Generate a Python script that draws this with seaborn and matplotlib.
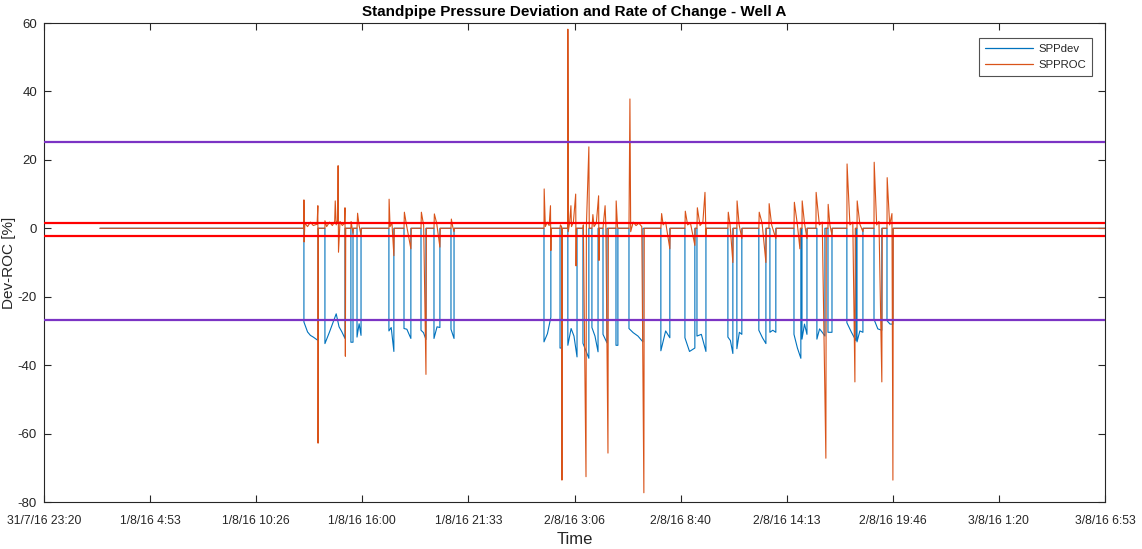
import numpy as np
import pandas as pd
import matplotlib
matplotlib.use("Agg")
import matplotlib.pyplot as plt
import matplotlib.dates as mdates
import seaborn as sns

# ---------------- data (hours after 31/7/16 23:20) ----------------
start_time = "2016-07-31 23:20:00"
end_time = "2016-08-03 06:53:20"
xtick_labels = ["31/7/16 23:20", "1/8/16 4:53", "1/8/16 10:26", "1/8/16 16:00",
                "1/8/16 21:33", "2/8/16 3:06", "2/8/16 8:40", "2/8/16 14:13",
                "2/8/16 19:46", "3/8/16 1:20", "3/8/16 6:53"]
ytick_values = [-80, -60, -40, -20, 0, 20, 40, 60]

# SPPdev
dev_g1_t = [2.93, 13.61, 13.61, 13.80, 13.95, 14.10, 14.35, 14.35,
            14.71, 14.71, 14.95, 15.30, 15.45, 15.60, 15.76, 15.76,
            16.07, 16.07, 16.18, 16.18,
            16.39, 16.39, 16.50, 16.60, 16.60,
            18.06, 18.06, 18.18, 18.32, 18.32,
            18.85, 18.85, 19.00, 19.21, 19.21,
            19.74, 19.74, 19.87, 20.00, 20.00,
            20.42, 20.42, 20.58, 20.73, 20.73,
            21.31, 21.31, 21.47, 21.47]
dev_g1_v = [0, 0, -27.4, -30.3, -31.3, -31.8, -32.8, 0,
            0, -33.7, -30.3, -25.0, -28.8, -30.3, -32.2, 0,
            0, -33.3, -33.3, 0,
            0, -31.8, -27.9, -31.3, 0,
            0, -30.0, -29.0, -36.0, 0,
            0, -29.3, -29.5, -32.2, 0,
            0, -29.8, -30.5, -32.5, 0,
            0, -32.2, -28.8, -29.0, 0,
            0, -29.5, -32.2, 0]
dev_g2_t = [26.18, 26.18, 26.36, 26.54, 26.54,
            27.02, 27.02, 27.12, 27.12,
            27.43, 27.43, 27.60, 27.75, 27.91, 27.91,
            28.22, 28.22, 28.53, 28.53,
            28.69, 28.69, 28.85, 29.01, 29.01,
            29.27, 29.27, 29.48, 29.48,
            29.95, 29.95, 30.05, 30.05,
            30.63, 30.63, 30.85, 31.10, 31.36, 31.36,
            32.30, 32.30, 32.55, 32.77, 32.77,
            33.56, 33.56, 33.80, 34.08, 34.08,
            34.19, 34.19, 34.42, 34.66, 34.66]
dev_g2_v = [0, -33.2, -30.8, -26.0, 0,
            0, -35.0, -35.0, 0,
            0, -34.2, -29.3, -31.5, -37.6, 0,
            0, -33.6, -38.0, 0,
            0, -29.0, -31.5, -36.1, 0,
            0, -31.0, -33.5, 0,
            0, -34.2, -34.2, 0,
            0, -29.3, -30.5, -31.5, -33.2, 0,
            0, -35.8, -30.0, -32.0, 0,
            0, -32.0, -36.0, -35.0, 0,
            0, -31.5, -31.0, -36.0, 0]
dev_g3_t = [35.81, 35.81, 35.94, 36.07, 36.07,
            36.28, 36.28, 36.41, 36.54, 36.54,
            37.43, 37.43, 37.62, 37.80, 37.80,
            38.01, 38.01, 38.16, 38.32, 38.32,
            39.27, 39.27, 39.45, 39.63, 39.63,
            39.69, 39.69, 39.82, 39.95, 39.95,
            40.47, 40.47, 40.61, 40.75, 40.89, 40.89,
            41.05, 41.05, 41.26, 41.26,
            42.04, 42.04, 42.28, 42.51, 42.51,
            42.57, 42.57, 42.72, 42.88, 42.88,
            43.46, 43.46, 43.66, 43.87, 43.87,
            44.14, 44.14, 44.30, 44.45, 44.45,
            55.55]
dev_g3_v = [0, -31.8, -32.8, -36.6, 0,
            0, -35.2, -30.4, -31.0, 0,
            0, -29.8, -32.0, -33.7, 0,
            0, -30.4, -29.8, -30.4, 0,
            0, -31.0, -35.0, -38.0, 0,
            0, -32.4, -28.0, -31.0, 0,
            0, -32.4, -29.4, -30.4, -31.5, 0,
            0, -30.4, -30.4, 0,
            0, -27.6, -30.4, -32.8, 0,
            0, -33.2, -30.0, -30.4, 0,
            0, -26.6, -29.4, -29.8, 0,
            0, -27.0, -28.0, -28.0, 0,
            0]

# SPPROC
roc_g1_t = [2.93,
            13.61, 13.61, 13.62, 13.66, 13.80, 13.95, 14.10, 14.30, 14.34, 14.35, 14.37,
            14.71, 14.71, 14.80, 14.95, 15.10, 15.22, 15.25, 15.30, 15.38, 15.40, 15.42,
            15.50, 15.62, 15.74, 15.76, 15.78, 15.80,
            16.07, 16.08, 16.18, 16.20,
            16.39, 16.42, 16.50, 16.60, 16.62,
            18.06, 18.07, 18.12, 18.22, 18.32, 18.34,
            18.85, 18.87, 18.98, 19.21, 19.23,
            19.74, 19.76, 19.88, 20.00, 20.02,
            20.42, 20.44, 20.56, 20.73, 20.75,
            21.31, 21.33, 21.40, 21.47, 21.49]
roc_g1_v = [0,
            0, 8.3, -4.0, 1.5, 0.5, 1.8, 0.8, 1.2, 6.6, -62.8, 0,
            0, 2.2, 0.5, 1.8, 0.8, 2.0, 8.0, 1.0, 2.5, 18.3, -7.0,
            2.0, 0.8, 1.5, 6.0, -37.4, 0,
            0, 2.0, -1.5, 0,
            0, 4.4, 0.8, -2.0, 0,
            0, 8.5, 0.5, 1.5, -8.0, 0,
            0, 4.7, 1.0, -6.0, 0,
            0, 4.7, 0.8, -42.7, 0,
            0, 4.2, 1.5, -5.5, 0,
            0, 2.7, 0.5, -1.0, 0]
roc_g2_t = [26.18, 26.19, 26.25, 26.35, 26.45, 26.52, 26.54, 26.56,
            27.02, 27.04, 27.10, 27.12, 27.14,
            27.43, 27.43, 27.45, 27.52, 27.59, 27.62, 27.72, 27.84, 27.86, 27.88,
            28.22, 28.24, 28.38, 28.40, 28.53, 28.55,
            28.69, 28.74, 28.80, 28.92, 29.04, 29.06, 29.08,
            29.27, 29.38, 29.42, 29.53, 29.55,
            29.95, 29.96, 30.03, 30.05,
            30.63, 30.68, 30.72, 30.85, 31.00, 31.15, 31.30, 31.41, 31.43,
            32.30, 32.34, 32.42, 32.55, 32.77, 32.79,
            33.56, 33.58, 33.70, 33.85, 34.08, 34.10,
            34.19, 34.21, 34.35, 34.50, 34.61, 34.66, 34.68]
roc_g2_v = [0, 11.5, 0.5, 1.8, 0.8, 6.6, -6.5, 0,
            0, 1.0, 0.5, -73.6, 0,
            0, 58.2, -1.0, 1.5, 6.6, 0.5, 1.8, 10.0, -11.0, 0,
            0, 1.0, -72.6, 0.5, 23.8, 0,
            0, 4.0, 0.5, 1.5, 9.5, -9.4, 0,
            0, 6.6, 0.8, -65.7, 0,
            0, 8.0, 0.5, 0,
            0, 37.8, -1.0, 1.8, 0.8, 1.5, 0.5, -77.3, 0,
            0, 4.3, 1.0, 1.8, -6.0, 0,
            0, 5.0, 1.0, 1.5, -5.0, 0,
            0, 6.0, 0.8, 1.8, 10.5, -2.0, 0]
roc_g3_t = [35.81, 35.83, 35.92, 36.07, 36.09,
            36.28, 36.29, 36.40, 36.54, 36.56,
            37.43, 37.45, 37.60, 37.80, 37.82,
            37.96, 37.97, 38.10, 38.32, 38.34,
            39.27, 39.29, 39.45, 39.58, 39.60,
            39.69, 39.70, 39.82, 39.95, 39.97,
            40.42, 40.43, 40.60, 40.75, 40.94, 40.96,
            41.05, 41.06, 41.15, 41.26, 41.28,
            42.04, 42.05, 42.20, 42.35, 42.46, 42.48,
            42.57, 42.58, 42.72, 42.88, 42.90,
            43.46, 43.47, 43.60, 43.72, 43.87, 43.89,
            44.14, 44.15, 44.28, 44.40, 44.45, 44.47,
            55.55]
roc_g3_v = [0, 4.7, 1.2, -10.0, 0,
            0, 8.0, 1.0, -3.0, 0,
            0, 4.7, 1.5, -10.0, 0,
            0, 7.2, 1.0, -3.0, 0,
            0, 7.6, 1.0, -6.0, 0,
            0, 8.0, 1.5, -3.0, 0,
            0, 10.5, 1.0, 1.8, -67.2, 0,
            0, 7.0, 1.0, -2.0, 0,
            0, 18.8, 1.0, 1.8, -44.9, 0,
            0, 8.0, 1.2, -1.0, 0,
            0, 19.3, 1.0, 2.0, -44.9, 0,
            0, 14.8, 1.0, 4.3, -73.6, 0,
            0]

purple_limits = [25.2, -26.8]
red_limits = [1.6, -2.3]

# ---------------- styling ----------------
sns.set_theme(style="white")
plt.rcParams["font.family"] = ["Liberation Sans", "DejaVu Sans"]

BLUE = "#0072BD"
ORANGE = "#D95319"
PURPLE = "#7B33C4"
RED = "#FF0000"
AXC = "#262626"

fig = plt.figure(figsize=(11.42, 5.49), dpi=100)
ax = fig.add_axes([44 / 1142, 1 - 502 / 549, (1105 - 44) / 1142, (502 - 23) / 549])

t0 = pd.Timestamp(start_time)
t1 = pd.Timestamp(end_time)

df_dev = pd.DataFrame({
    "Time": t0 + pd.to_timedelta(dev_g1_t + dev_g2_t + dev_g3_t, unit="h"),
    "value": dev_g1_v + dev_g2_v + dev_g3_v,
})
df_roc = pd.DataFrame({
    "Time": t0 + pd.to_timedelta(roc_g1_t + roc_g2_t + roc_g3_t, unit="h"),
    "value": roc_g1_v + roc_g2_v + roc_g3_v,
})

sns.lineplot(data=df_dev, x="Time", y="value", estimator=None, sort=False,
             color=BLUE, lw=0.8, ax=ax, label="SPPdev")
sns.lineplot(data=df_roc, x="Time", y="value", estimator=None, sort=False,
             color=ORANGE, lw=0.8, ax=ax, label="SPPROC")
handles, labels = ax.get_legend_handles_labels()

for yv in purple_limits:
    ax.axhline(yv, color=PURPLE, lw=1.6, zorder=5)
for yv in red_limits:
    ax.axhline(yv, color=RED, lw=1.6, zorder=5)

ax.set_xlim(mdates.date2num(t0), mdates.date2num(t1))
ax.set_ylim(-80, 60)
step = (t1 - t0) / 10
ax.set_xticks([mdates.date2num(t0 + i * step) for i in range(11)])
ax.set_xticklabels(xtick_labels)
ax.set_yticks(ytick_values)
ax.set_yticklabels([str(v) for v in ytick_values])

ax.tick_params(axis="both", which="both", direction="in", length=5, width=0.8,
               color=AXC, labelcolor=AXC, labelsize=8.7, top=True, right=True,
               bottom=True, left=True)
ax.tick_params(axis="x", pad=9)
ax.tick_params(axis="y", pad=5, labelsize=9.5)
for s in ax.spines.values():
    s.set_color(AXC)
    s.set_linewidth(0.8)
    s.set_visible(True)

ax.set_title("Standpipe Pressure Deviation and Rate of Change - Well A",
             fontsize=11, fontweight="bold", color="#000000", pad=5)
ax.set_xlabel("Time", fontsize=12, color=AXC, labelpad=4)
ax.set_ylabel("Dev-ROC [%]", fontsize=11, color=AXC, labelpad=1)

leg = ax.legend(handles, labels, loc="upper right", bbox_to_anchor=(0.9877, 0.969),
                fontsize=8.2, frameon=True, fancybox=False, handlelength=4.2,
                borderpad=0.5, labelspacing=0.55, handletextpad=0.5, borderaxespad=0)
leg.get_frame().set_edgecolor(AXC)
leg.get_frame().set_linewidth(0.8)
for lh in leg.get_lines():
    lh.set_linewidth(0.9)

fig.savefig("out.png", dpi=100, facecolor="white")
